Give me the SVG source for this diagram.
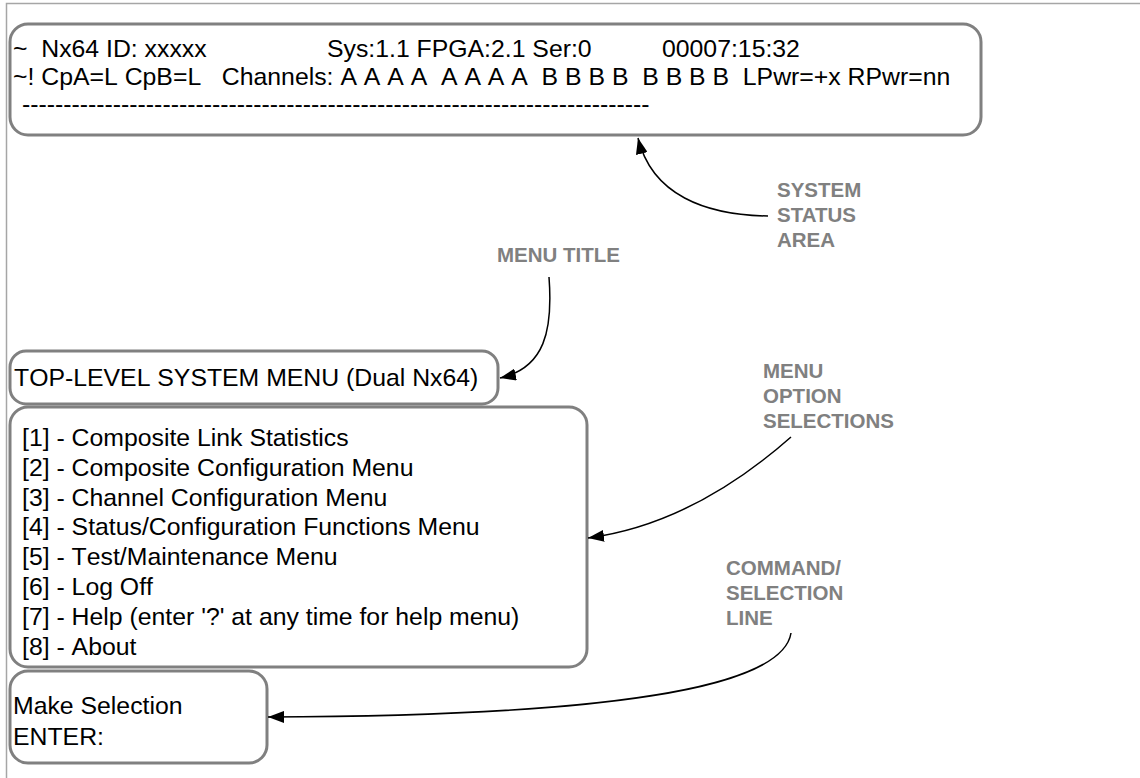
<svg xmlns="http://www.w3.org/2000/svg" width="1140" height="778" viewBox="0 0 1140 778">
  <style>
    .frame { stroke: #a6a6a6; stroke-width: 1.5; fill: none; }
    .box { fill: #ffffff; stroke: #808080; stroke-width: 3; }
    .t { font-family: "Liberation Sans", Arial, sans-serif; font-size: 24.8px; fill: #000000; white-space: pre; font-kerning: none; }
    .lbl { font-family: "Liberation Sans", Arial, sans-serif; font-size: 20.5px; font-weight: bold; fill: #808080; }
    .conn { fill: none; stroke: #000000; stroke-width: 1.5; }
  </style>
  <defs>
    <marker id="arrow" markerUnits="userSpaceOnUse" markerWidth="17" markerHeight="12" refX="16" refY="6" orient="auto">
      <path d="M0,0 L16,6 L0,12 Z" fill="#000000"/>
    </marker>
  </defs>

  <rect width="1140" height="778" fill="#ffffff"/>
  <!-- page frame: top and left edges only -->
  <path class="frame" d="M6.5,778 L6.5,3.5 L1140,3.5"/>

  <!-- status area -->
  <g id="status-area">
    <rect class="box" x="10" y="24" width="971" height="111" rx="18"/>
    <text class="t" x="13" y="57">~  Nx64 ID: xxxxx</text>
    <text class="t" x="327" y="57">Sys:1.1 FPGA:2.1 Ser:0</text>
    <text class="t" x="662" y="57">00007:15:32</text>
    <text class="t" x="13" y="85">~! CpA=L CpB=L   Channels: A A A A  A A A A  B B B B  B B B B  LPwr=+x RPwr=nn</text>
    <text class="t" x="22" y="112">----------------------------------------------------------------------------</text>
  </g>

  <!-- menu title -->
  <g id="menu-title">
    <rect class="box" x="10" y="351" width="488" height="53" rx="16"/>
    <text class="t" x="14" y="386">TOP-LEVEL SYSTEM MENU (Dual Nx64)</text>
  </g>

  <!-- menu options -->
  <g id="menu-options">
    <rect class="box" x="10" y="407" width="577" height="260" rx="18"/>
    <text class="t" x="22" y="446">[1] - Composite Link Statistics</text>
    <text class="t" x="22" y="476">[2] - Composite Configuration Menu</text>
    <text class="t" x="22" y="506">[3] - Channel Configuration Menu</text>
    <text class="t" x="22" y="535">[4] - Status/Configuration Functions Menu</text>
    <text class="t" x="22" y="565">[5] - Test/Maintenance Menu</text>
    <text class="t" x="22" y="595">[6] - Log Off</text>
    <text class="t" x="22" y="625">[7] - Help (enter '?' at any time for help menu)</text>
    <text class="t" x="22" y="655">[8] - About</text>
  </g>

  <!-- command / selection line -->
  <g id="selection-line">
    <rect class="box" x="10" y="671" width="257" height="92" rx="18"/>
    <text class="t" x="13" y="714">Make Selection</text>
    <text class="t" x="13" y="745">ENTER:</text>
  </g>

  <!-- callout labels -->
  <g id="label-system-status">
    <text class="lbl" x="777" y="197">SYSTEM</text>
    <text class="lbl" x="777" y="222">STATUS</text>
    <text class="lbl" x="777" y="247">AREA</text>
  </g>
  <g id="label-menu-title">
    <text class="lbl" x="497" y="262">MENU TITLE</text>
  </g>
  <g id="label-menu-options">
    <text class="lbl" x="763" y="378">MENU</text>
    <text class="lbl" x="763" y="403">OPTION</text>
    <text class="lbl" x="763" y="428">SELECTIONS</text>
  </g>
  <g id="label-command">
    <text class="lbl" x="726" y="575">COMMAND/</text>
    <text class="lbl" x="726" y="600">SELECTION</text>
    <text class="lbl" x="726" y="625">LINE</text>
  </g>

  <!-- connectors -->
  <g id="connectors">
    <path class="conn" marker-end="url(#arrow)" d="M768,216 C705,215 652,195 638,138"/>
    <path class="conn" marker-end="url(#arrow)" d="M549,277 C553,330 545,368 500,378"/>
    <path class="conn" marker-end="url(#arrow)" d="M791,437 C740,482 670,527 588,538"/>
    <path class="conn" marker-end="url(#arrow)" d="M791,633 C782,690 600,716 268,717"/>
  </g>
</svg>
